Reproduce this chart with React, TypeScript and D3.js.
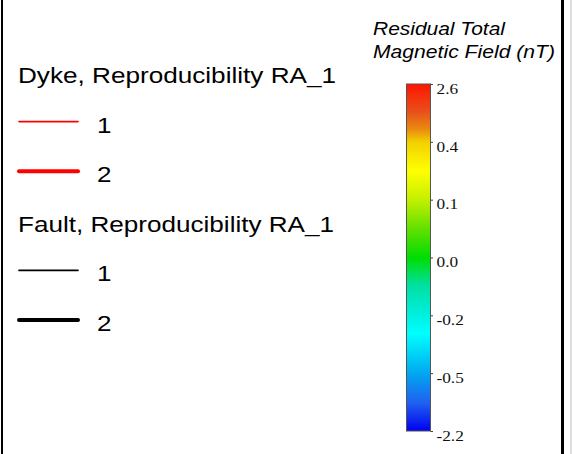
import React, { useEffect, useRef } from 'react'
import * as d3 from 'd3'

const width = 572
const height = 454

// legend
const groupTitles = ['Dyke, Reproducibility RA_1', 'Fault, Reproducibility RA_1']
const groupColors = ['#ff0000', '#000000']
const itemLabels = ['1', '2']
const itemWidths = [1.6, 4]

// colour bar
const cbarTitle = ['Residual Total', 'Magnetic Field (nT)']
const cbarTicks = ['2.6', '0.4', '0.1', '0.0', '-0.2', '-0.5', '-2.2']
const cbarOffsets = [0, 0.08, 0.13, 0.167, 0.25, 0.333, 0.42, 0.5, 0.58, 0.667, 0.72, 0.833, 0.92, 1]
const cbarColors = ['#ff1500', '#e8501a', '#ea8a10', '#f2d000', '#ffff00', '#c4f000', '#60e000',
  '#00dd00', '#00e0a0', '#00f0e0', '#00ffff', '#00a8f0', '#2060f0', '#0000f0']

const bar = { x: 406.5, w: 24, top: 84, bottom: 431 }

const App = () => {
  const axisRef = useRef(null)

  const rows = groupTitles.flatMap((t, g) => [
    { kind: 'title', text: t, g },
    ...itemLabels.map((l, i) => ({ kind: 'item', text: l, g, i }))
  ])
  const rowY = d3.scalePoint().domain(d3.range(rows.length)).range([83, 331])

  const yTick = d3.scalePoint().domain(cbarTicks).range([bar.top, bar.bottom])

  useEffect(() => {
    const axis = d3.axisRight(yTick).tickSizeInner(2.5).tickSizeOuter(0).tickPadding(3.5)
    const g = d3.select(axisRef.current).call(axis)
    g.attr('font-size', null).attr('font-family', null)
    g.select('.domain').remove()
    g.selectAll('line').attr('stroke', '#444')
    g.selectAll('text')
      .attr('font-family', '"Liberation Serif", "Times New Roman", serif')
      .attr('font-size', 15)
      .attr('fill', '#111')
      .attr('dy', '0.62em')
      .attr('textLength', null)
      .each(function () {
        const w = this.getComputedTextLength()
        d3.select(this).attr('textLength', w * 1.15).attr('lengthAdjust', 'spacingAndGlyphs')
      })
  }, [])

  return (
    <svg width={width} height={height} style={{ display: 'block' }}>
      <style>{'body{margin:0}'}</style>
      <rect width={width} height={height} fill='#fff' />
      <line x1={2} x2={2} y1={0} y2={height} stroke='#000' strokeWidth={2} />
      <line x1={562.5} x2={562.5} y1={0} y2={height} stroke='#000' strokeWidth={3} />
      <line x1={571} x2={571} y1={0} y2={height} stroke='#bbb' strokeWidth={1} />

      <g fontFamily='"Liberation Sans", Arial, sans-serif' fill='#000'>
        {rows.map((r, k) => r.kind === 'title' ? (
          <text key={k} x={18} y={rowY(k)} fontSize={22}
            textLength={r.g === 0 ? 318 : 316} lengthAdjust='spacingAndGlyphs'>{r.text}</text>
        ) : (
          <g key={k}>
            <line x1={19} x2={78} y1={rowY(k) - 11} y2={rowY(k) - 11}
              stroke={groupColors[r.g]} strokeWidth={itemWidths[r.i]} strokeLinecap='round' />
            <text x={97} y={rowY(k)} fontSize={22} textLength={14.5}
              lengthAdjust='spacingAndGlyphs'>{r.text}</text>
          </g>
        ))}
      </g>

      <g fontFamily='"Liberation Sans", Arial, sans-serif' fontStyle='italic' fontSize={18.5} fill='#000'>
        <text x={373} y={35} textLength={132} lengthAdjust='spacingAndGlyphs'>{cbarTitle[0]}</text>
        <text x={373} y={58} textLength={182} lengthAdjust='spacingAndGlyphs'>{cbarTitle[1]}</text>
      </g>

      <defs>
        <linearGradient id='cbar' x1='0' y1='0' x2='0' y2='1'>
          {cbarOffsets.map((o, i) => <stop key={i} offset={o} stopColor={cbarColors[i]} />)}
        </linearGradient>
      </defs>
      <rect x={bar.x} y={bar.top} width={bar.w} height={bar.bottom - bar.top}
        fill='url(#cbar)' stroke='#555' strokeWidth={1} />
      <g ref={axisRef} transform={`translate(${bar.x + bar.w}, 0)`}></g>
    </svg>
  )
}

export default App
